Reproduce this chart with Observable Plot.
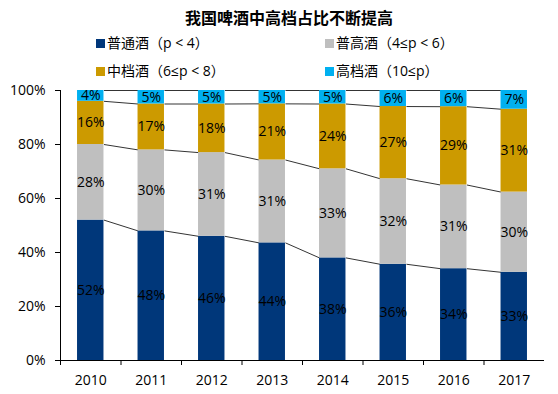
<!DOCTYPE html>
<html>
<head>
<meta charset="utf-8">
<script src="https://cdn.jsdelivr.net/npm/d3@7"></script>
<script src="https://cdn.jsdelivr.net/npm/@observablehq/plot@0.6"></script>
<style>
  html, body { margin: 0; padding: 0; background: #fff; }
  #wrap { position: relative; width: 558px; height: 394px; overflow: hidden;
    font-family: "Open Sans", "DejaVu Sans", "Noto Sans CJK SC", sans-serif; color: #000; }
  #title { position: absolute; top: 5px; left: 0; width: 578px; text-align: center;
    font-size: 16px; font-weight: bold; font-family: "Noto Sans CJK SC", sans-serif; }
  .leg { position: absolute; font-size: 14px; line-height: 18px; white-space: nowrap; }
  .leg span.sw { display: inline-block; width: 9px; height: 9px; margin-right: 2px; vertical-align: 0px; }
  #chart { position: absolute; left: 0; top: 80px; }
</style>
</head>
<body>
<div id="wrap">
  <div id="title">我国啤酒中高档占比不断提高</div>
  <div id="legend"></div>
  <div id="chart"></div>
</div>
<script>
const years = [2010, 2011, 2012, 2013, 2014, 2015, 2016, 2017];
const seriesNames = ["普通酒（p < 4）", "普高酒（4≤p < 6）", "中档酒（6≤p < 8）", "高档酒（10≤p）"];
const seriesColors = ["#00377a", "#bfbfbf", "#cc9a00", "#00b0f0"];
const regular = [52, 48, 46, 44, 38, 36, 34, 33];
const upperRegular = [28, 30, 31, 31, 33, 32, 31, 30];
const midRange = [16, 17, 18, 21, 24, 27, 29, 31];
const premium = [4, 5, 5, 5, 5, 6, 6, 7];
const yTicks = [0, 0.2, 0.4, 0.6, 0.8, 1];

const seriesValues = [regular, upperRegular, midRange, premium];
const halfBar = 0.2185;

// legend
const legendPos = [[96, 34], [325, 34], [96, 62], [325, 62]];
const legend = document.getElementById("legend");
seriesNames.forEach((name, i) => {
  const d = document.createElement("div");
  d.className = "leg";
  d.style.left = legendPos[i][0] + "px";
  d.style.top = legendPos[i][1] + "px";
  d.innerHTML = `<span class="sw" style="background:${seriesColors[i]}"></span>${name}`;
  legend.appendChild(d);
});

// stacked, normalized rows
const rows = [];
const tops = seriesNames.map(() => []);
years.forEach((yr, j) => {
  const total = d3.sum(seriesValues, s => s[j]);
  let cum = 0;
  seriesValues.forEach((s, k) => {
    const v = s[j];
    rows.push({year: yr, series: seriesNames[k], value: v, y1: cum / total, y2: (cum + v) / total});
    cum += v;
    tops[k].push(cum / total);
  });
});
const links = [];
tops.forEach((t, k) => {
  for (let j = 0; j < years.length - 1; j++) {
    links.push({x1: years[j] + halfBar, x2: years[j + 1] - halfBar, y1: t[j], y2: t[j + 1]});
  }
});
const tickBounds = years.map(y => y - 0.5);

const chart = Plot.plot({
  width: 558,
  height: 314,
  marginLeft: 60,
  marginRight: 14,
  marginTop: 10,
  marginBottom: 34,
  style: {fontFamily: '"Open Sans", "Noto Sans CJK SC", sans-serif', fontSize: "14px", color: "#000", background: "transparent"},
  x: {type: "linear", domain: [2009.5, 2017.5]},
  y: {domain: [0, 1]},
  color: {domain: seriesNames, range: seriesColors},
  marks: [
    Plot.link(links, {x1: "x1", x2: "x2", y1: "y1", y2: "y2", stroke: "#000", strokeWidth: 0.8}),
    Plot.rectY(rows, {x1: d => d.year - halfBar, x2: d => d.year + halfBar, y1: "y1", y2: "y2", fill: "series"}),
    Plot.text(rows, {x: "year", y: d => (d.y1 + d.y2) / 2, text: d => d.value + "%", fill: "#000", fontSize: 14}),
    Plot.axisY({ticks: yTicks, tickFormat: d => Math.round(d * 100) + "%", tickSize: 5, tickPadding: 10, fontSize: 14, label: null, stroke: "#000"}),
    Plot.axisX({ticks: tickBounds, tickFormat: () => "", tickSize: 5, label: null, stroke: "#000"}),
    Plot.axisX({ticks: years, tickFormat: d => String(d), tickSize: 0, tickPadding: 15, fontSize: 14, label: null}),
    Plot.ruleX([2009.5], {stroke: "#000"}),
    Plot.ruleY([0], {stroke: "#000"})
  ]
});
document.getElementById("chart").appendChild(chart);
</script>
</body>
</html>
